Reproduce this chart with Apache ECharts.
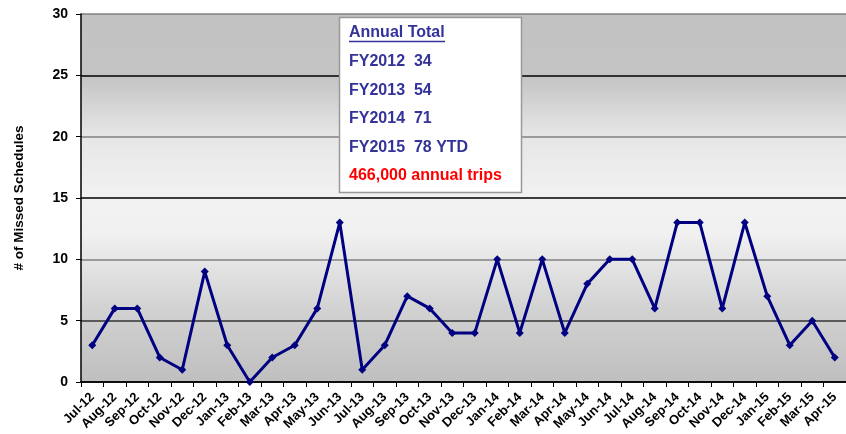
<!DOCTYPE html>
<html>
<head>
<meta charset="utf-8">
<script src="https://cdn.jsdelivr.net/npm/echarts@6/dist/echarts.min.js"></script>
<style>html,body{margin:0;padding:0;background:#fff;}#c{width:846px;height:434px;}</style>
</head>
<body>
<div id="c"></div>
<script>
const months = ['Jul-12','Aug-12','Sep-12','Oct-12','Nov-12','Dec-12','Jan-13','Feb-13','Mar-13','Apr-13','May-13','Jun-13','Jul-13','Aug-13','Sep-13','Oct-13','Nov-13','Dec-13','Jan-14','Feb-14','Mar-14','Apr-14','May-14','Jun-14','Jul-14','Aug-14','Sep-14','Oct-14','Nov-14','Dec-14','Jan-15','Feb-15','Mar-15','Apr-15'];
const missed = [3,6,6,2,1,9,3,0,2,3,6,13,1,3,7,6,4,4,10,4,10,4,8,10,10,6,13,13,6,13,7,3,5,2];
const fyYears = ['FY2012','FY2013','FY2014','FY2015'];
const fyTotals = ['34','54','71','78 YTD'];
const boxTitle = 'Annual Total';
const boxNote = '466,000 annual trips';
const yAxisTitle = '# of Missed Schedules';

const chart = echarts.init(document.getElementById('c'), null, {renderer:'canvas'});
const font = '"Liberation Sans", Arial, sans-serif';
const blue = '#333399';
const graphics = [
  {type:'rect', shape:{x:339.5,y:17.5,width:182,height:175}, style:{fill:'#fff', stroke:'#999', lineWidth:1.5}, z:10},
  {type:'text', x:349, y:33, style:{text:boxTitle, fill:blue, font:'bold 16px '+font, textVerticalAlign:'middle'}, z:11},
  {type:'line', shape:{x1:349,y1:41.5,x2:445,y2:41.5}, style:{stroke:blue, lineWidth:1.5}, z:11}
];
fyYears.forEach((y,i)=>{
  graphics.push({type:'text', x:349, y:62 + i*28.5, style:{text:y+'  '+fyTotals[i], fill:blue, font:'bold 16px '+font, textVerticalAlign:'middle'}, z:11});
});
graphics.push({type:'text', x:349, y:176, style:{text:boxNote, fill:'#ff0000', font:'bold 16px '+font, textVerticalAlign:'middle'}, z:11});

chart.setOption({
  animation:false,
  backgroundColor:'#fff',
  grid:{left:81, right:0, top:14, bottom:52, show:true, borderWidth:0, containLabel:false, outerBoundsMode:'none',
    backgroundColor:{type:'linear', x:0, y:0, x2:0, y2:1, colorStops:[
      {offset:0, color:'#c2c2c2'},{offset:0.17, color:'#c4c4c4'},
      {offset:0.33, color:'#e6e6e6'},{offset:0.5, color:'#f2f2f2'},
      {offset:0.6, color:'#f0f0f0'},{offset:0.8, color:'#d2d2d2'},{offset:1, color:'#bfbfbf'}]}},
  xAxis:{type:'category', data:months, boundaryGap:true,
    axisLine:{lineStyle:{color:'#000', width:1.5}},
    axisTick:{show:true, alignWithLabel:false, length:5, lineStyle:{color:'#000'}},
    axisLabel:{rotate:45, interval:0, color:'#000', fontWeight:'bold', fontSize:13, fontFamily:font, margin:13}},
  yAxis:{type:'value', min:0, max:30, interval:5,
    name:yAxisTitle, nameLocation:'middle', nameGap:55, nameRotate:90,
    nameTextStyle:{color:'#000', fontWeight:'bold', fontSize:13.5, fontFamily:font},
    axisLine:{show:true, lineStyle:{color:'#000', width:1.5}},
    axisTick:{show:true, length:5, lineStyle:{color:'#000'}},
    axisLabel:{color:'#000', fontWeight:'bold', fontSize:14, fontFamily:font, margin:13}},
  series:[{type:'line', data:missed, symbol:'diamond', symbolSize:8,
    lineStyle:{color:'#000080', width:3}, itemStyle:{color:'#000080'}, z:5}],
  graphic:graphics
});
chart.setOption({yAxis:{splitLine:{show:true, lineStyle:{color:['#000','#333','#808080','#000','#808080','#000','#808080'], width:1.5}}}});
</script>
</body>
</html>
